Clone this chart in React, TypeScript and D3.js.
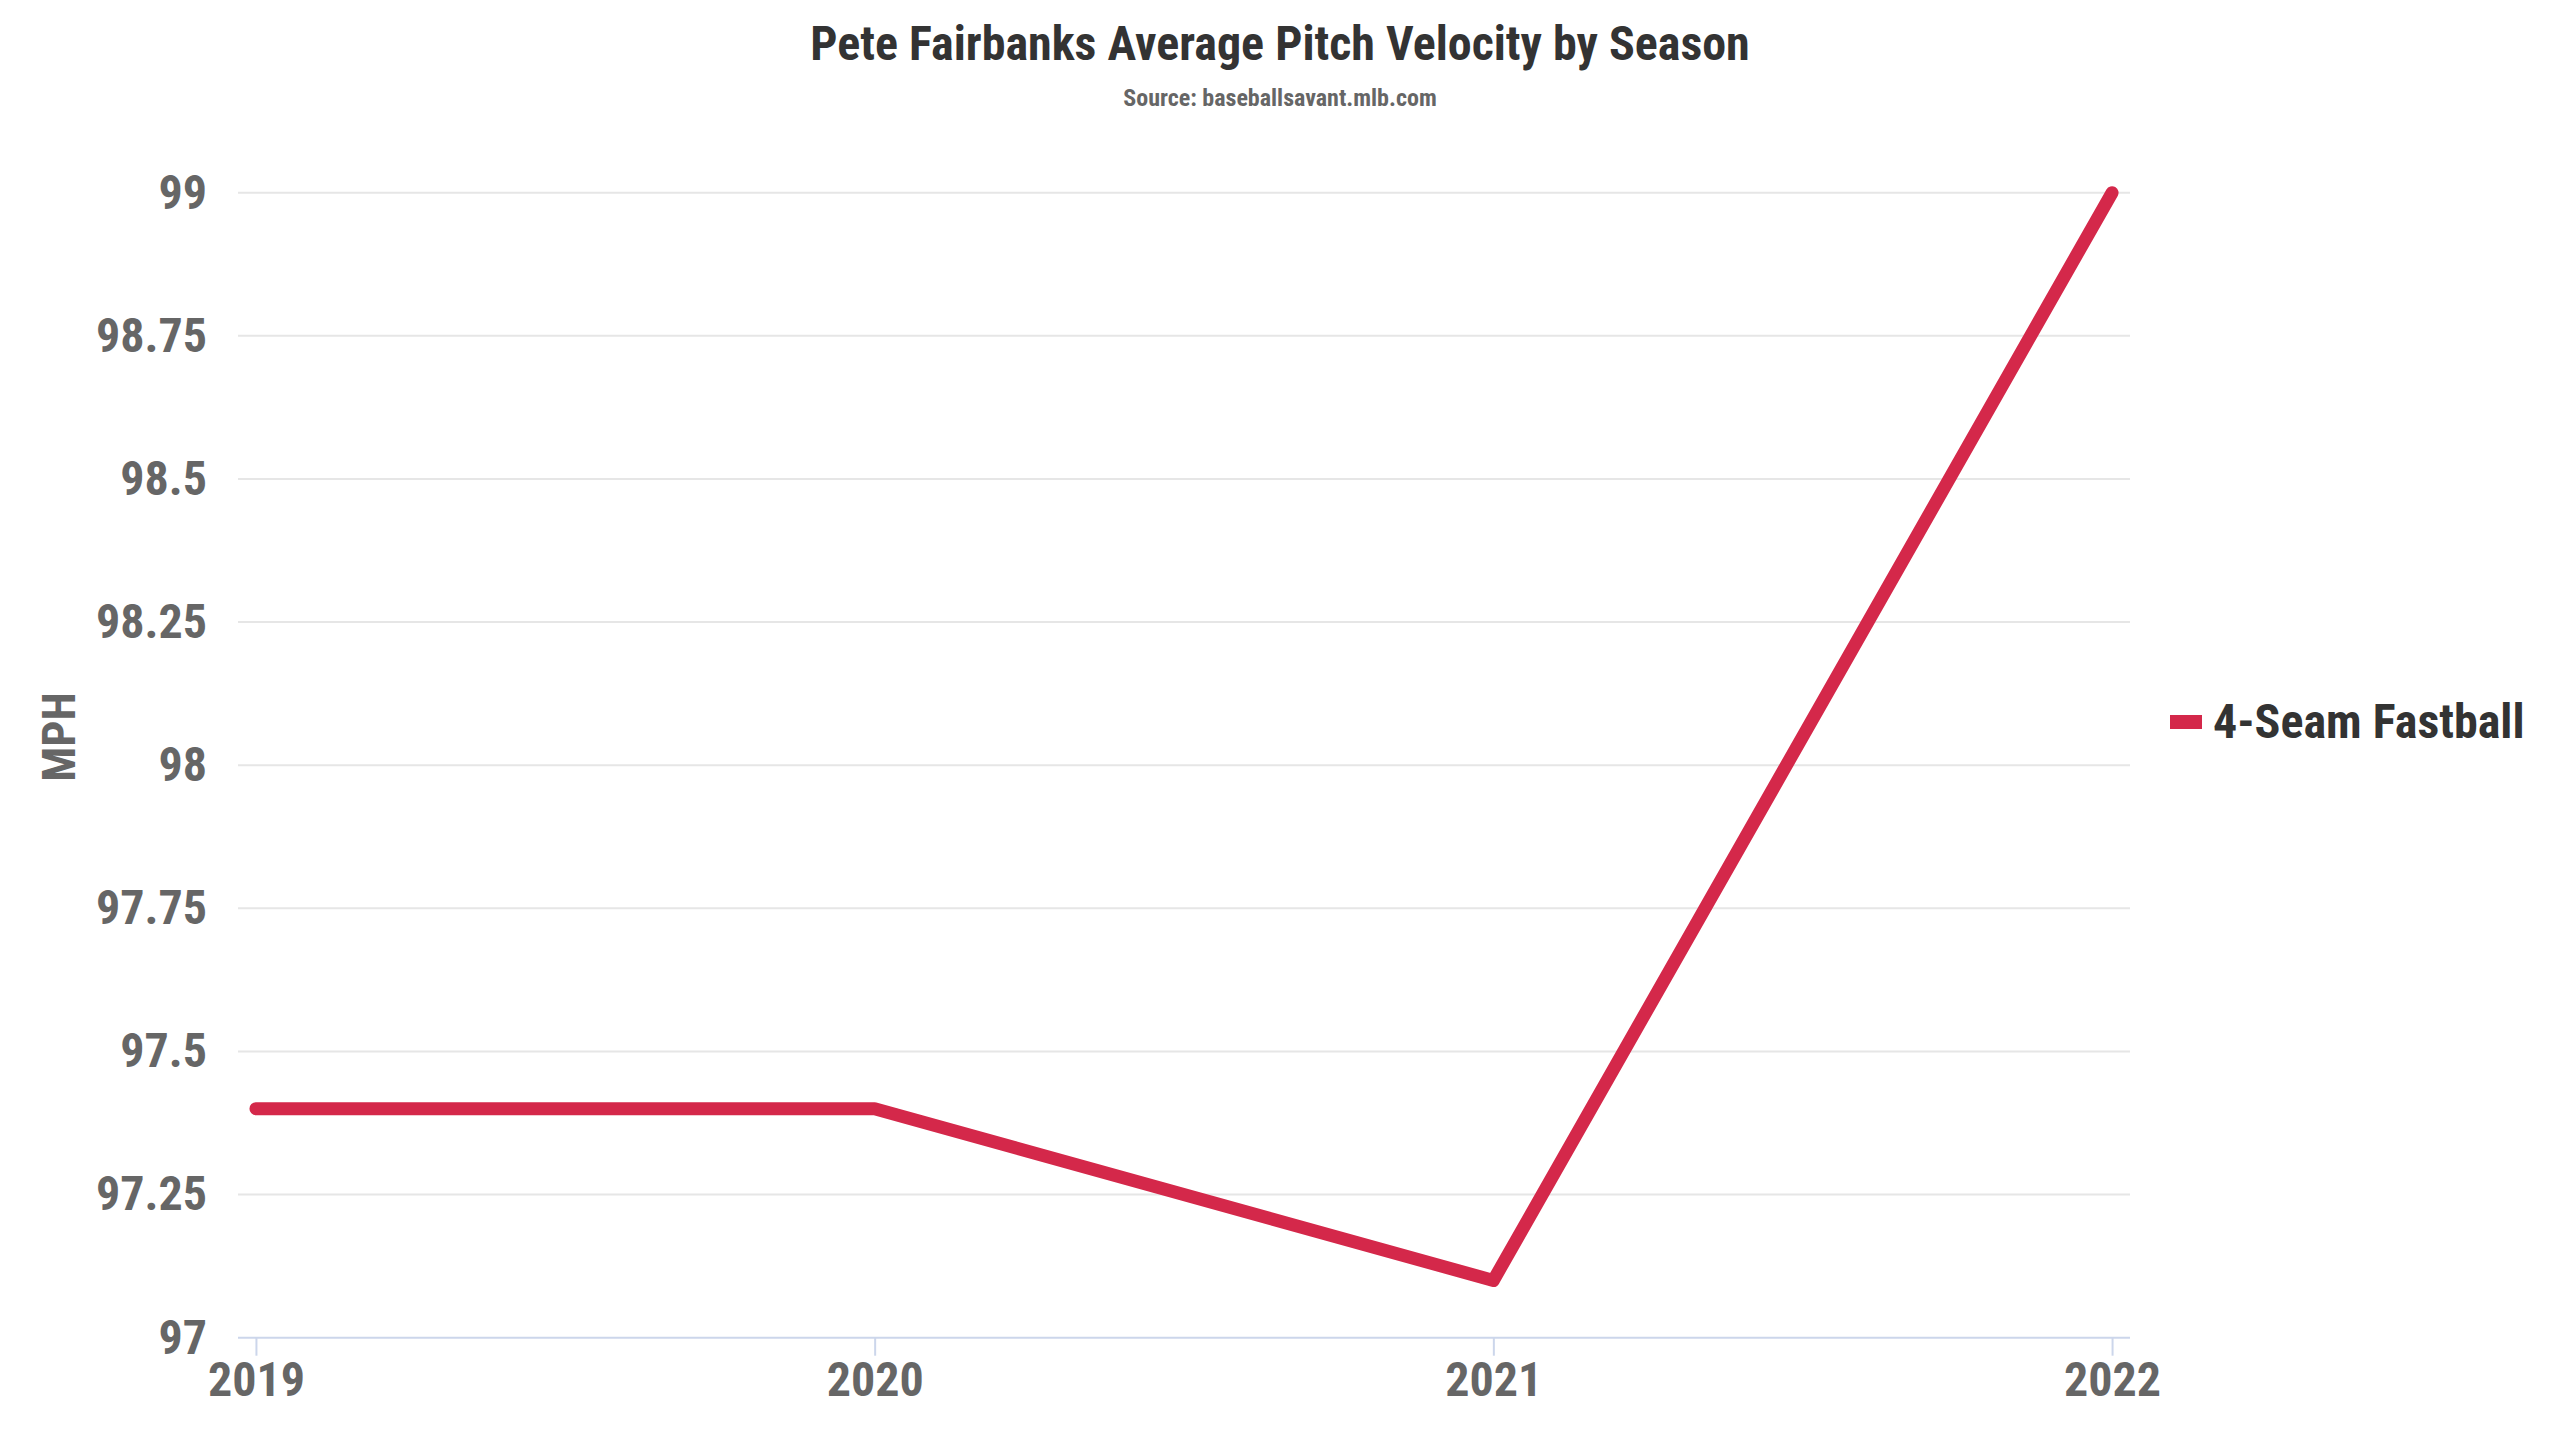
import React, { useRef, useEffect } from 'react';
import * as d3 from 'd3';

// data
const seasons: string[] = ['2019', '2020', '2021', '2022'];
const fastballMph: number[] = [97.4, 97.4, 97.1, 99.0];
const yTicks: number[] = [97, 97.25, 97.5, 97.75, 98, 98.25, 98.5, 98.75, 99];
const seriesName = '4-Seam Fastball';

const FONT = "'Roboto Condensed', Roboto, sans-serif";

const App: React.FC = () => {
  const svgRef = useRef<SVGSVGElement | null>(null);

  useEffect(() => {
    if (!svgRef.current) return;

    const width = 2560;
    const height = 1441;
    const plot = { left: 238, right: 2130, top: 192.7, bottom: 1337.7 };

    const x = d3.scalePoint<string>()
      .domain(seasons)
      .range([plot.left, plot.right])
      .padding(0.029);

    const y = d3.scaleLinear()
      .domain([97, 99])
      .range([plot.bottom, plot.top]);

    const svg = d3.select(svgRef.current)
      .attr('width', width)
      .attr('height', height);

    svg.selectAll('*').remove();

    svg.append('rect').attr('width', width).attr('height', height).attr('fill', '#fff');

    // title + source
    svg.append('text')
      .attr('x', 1280).attr('y', 60)
      .attr('text-anchor', 'middle')
      .style('font-family', FONT).style('font-stretch', 'condensed')
      .style('font-weight', 700).style('font-size', '48px')
      .attr('fill', '#333333')
      .text('Pete Fairbanks Average Pitch Velocity by Season');

    svg.append('text')
      .attr('x', 1280).attr('y', 106)
      .attr('text-anchor', 'middle')
      .style('font-family', FONT).style('font-stretch', 'condensed')
      .style('font-weight', 700).style('font-size', '24px')
      .attr('fill', '#666666')
      .text('Source: baseballsavant.mlb.com');

    // grid lines
    svg.append('g')
      .selectAll('line')
      .data(yTicks.slice(1))
      .join('line')
      .attr('x1', plot.left).attr('x2', plot.right)
      .attr('y1', d => y(d)).attr('y2', d => y(d))
      .attr('stroke', '#e6e6e6').attr('stroke-width', 2);

    // y axis labels
    const yAxis = svg.append('g')
      .attr('transform', `translate(${plot.left},0)`)
      .call(d3.axisLeft(y).tickValues(yTicks).tickSize(0).tickPadding(31).tickFormat(d => String(d)));
    yAxis.select('.domain').remove();
    yAxis.selectAll('text')
      .style('font-family', FONT).style('font-stretch', 'condensed')
      .style('font-weight', 700).style('font-size', '48px')
      .attr('fill', '#666666');

    // x axis
    const xAxis = svg.append('g')
      .attr('transform', `translate(0,${plot.bottom})`)
      .call(d3.axisBottom(x).tickSize(18).tickPadding(6));
    xAxis.select('.domain')
      .attr('d', `M${plot.left},0H${plot.right}`)
      .attr('stroke', '#ccd6eb').attr('stroke-width', 2);
    xAxis.selectAll('.tick line').attr('stroke', '#ccd6eb').attr('stroke-width', 2);
    xAxis.selectAll('text')
      .style('font-family', FONT).style('font-stretch', 'condensed')
      .style('font-weight', 700).style('font-size', '48px')
      .attr('fill', '#666666');

    // y axis title
    svg.append('text')
      .attr('transform', 'translate(75,737) rotate(-90)')
      .attr('text-anchor', 'middle')
      .style('font-family', FONT).style('font-stretch', 'condensed')
      .style('font-weight', 700).style('font-size', '46px')
      .attr('fill', '#666666')
      .text('MPH');

    // series line
    const line = d3.line<number>()
      .x((_, i) => x(seasons[i]) as number)
      .y(d => y(d));

    svg.append('path')
      .datum(fastballMph)
      .attr('fill', 'none')
      .attr('stroke', '#d4284a')
      .attr('stroke-width', 13)
      .attr('stroke-linecap', 'round')
      .attr('stroke-linejoin', 'round')
      .attr('d', line);

    // legend
    const legend = svg.append('g').attr('transform', 'translate(2170,722)');
    legend.append('rect')
      .attr('x', 0).attr('y', -7).attr('width', 32).attr('height', 14)
      .attr('fill', '#d4284a');
    legend.append('text')
      .attr('x', 43).attr('y', 16)
      .style('font-family', FONT).style('font-stretch', 'condensed')
      .style('font-weight', 700).style('font-size', '48px')
      .attr('fill', '#333333')
      .text(seriesName);
  }, []);

  return (
    <svg
      ref={svgRef}
      style={{ position: 'absolute', left: 0, top: 0, display: 'block' }}
    ></svg>
  );
};

export default App;
